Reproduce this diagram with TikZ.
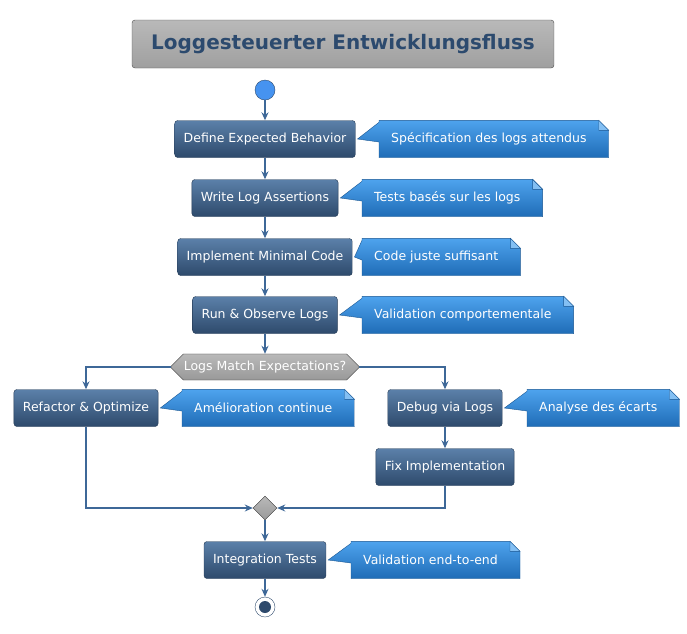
\documentclass[tikz,border=0pt]{standalone}
\usepackage{fontspec}
\setmainfont{DejaVu Sans}
\usetikzlibrary{shapes,arrows.meta,positioning,backgrounds}
\definecolor{actTop}{HTML}{5B80A9}
\definecolor{actBot}{HTML}{2E4A6C}
\definecolor{noteTop}{HTML}{4EA3EE}
\definecolor{noteBot}{HTML}{1F6CB6}
\definecolor{flow}{HTML}{3E6898}
\definecolor{titleTxt}{HTML}{2C4A6E}
\tikzset{%
act/.style={rectangle, rounded corners=3pt, draw=actBot!80!black, top color=actTop, bottom color=actBot, text=white, font=\fontsize{12.5}{15}\selectfont, minimum height=37pt, inner xsep=9pt},
note/.style={rectangle, text=white, font=\fontsize{12.5}{15}\selectfont, minimum height=37pt, inner xsep=0pt, align=left},
flw/.style={draw=flow, line width=1.8pt, -{Stealth[length=8pt,width=7pt]}}
}
% note body with dog-ear and pointer towards its action
\newcommand{\notefor}[2]{%
  \begin{scope}[on background layer]
  \path[draw=noteBot!80!black, top color=noteTop, bottom color=noteBot]
    ([xshift=-12pt]#1.north west) -- ([xshift=12pt]#1.north east) -- ([xshift=22pt,yshift=-10pt]#1.north east)
    -- ([xshift=22pt]#1.south east) -- ([xshift=-12pt]#1.south west) -- ([xshift=-12pt,yshift=-3pt]#1.west)
    -- ([xshift=2pt]#2.east) -- ([xshift=-12pt,yshift=-2pt]#1.north west) -- cycle;
  \path[draw=noteBot!80!black, fill=noteTop!70!white] ([xshift=12pt]#1.north east) -- ([xshift=12pt,yshift=-10pt]#1.north east) -- ([xshift=22pt,yshift=-10pt]#1.north east) -- cycle;
  \end{scope}
}
\begin{document}
\begin{tikzpicture}[x=1pt,y=-1pt]
\useasboundingbox (0,0) rectangle (687,633);
\node[rectangle, rounded corners=3pt, draw=gray!60!black, top color=gray!55, bottom color=gray!75, text=titleTxt, font=\fontsize{20}{24}\bfseries\selectfont, minimum width=422pt, minimum height=48pt] (title) at (343,44) {Loggesteuerter Entwicklungsfluss};
\node[circle, fill=noteTop!90!blue, draw=actBot, minimum size=20pt, inner sep=0] (start) at (265,90) {};

\node[act] (define) at (265,139) {Define Expected Behavior};
\node[act] (write) at (265,198) {Write Log Assertions};
\node[act] (impl) at (265,257) {Implement Minimal Code};
\node[act] (run) at (265,315) {Run \& Observe Logs};
\node[chamfered rectangle, chamfered rectangle xsep=9pt, draw=gray!40!black, top color=gray!55, bottom color=gray!80, text=white, font=\fontsize{12.5}{15}\selectfont, minimum height=26pt, inner xsep=4pt] (match) at (265,367) {Logs Match Expectations?};
\node[act] (refactor) at (86,408) {Refactor \& Optimize};
\node[act] (debug) at (445,408) {Debug via Logs};
\node[act] (fix) at (445,467) {Fix Implementation};
\node[diamond, draw=gray!40!black, top color=gray!55, bottom color=gray!80, minimum size=24pt, inner sep=0] (merge) at (265,508) {};
\node[act] (integ) at (265,560) {Integration Tests};
\node[circle, draw=actBot, minimum size=20pt, inner sep=0] (stop) at (265,607) {};
\fill[actBot] (stop) circle (6pt);

\node[note, anchor=west] (n1) at (391,139) {Spécification des logs attendus};
\node[note, anchor=west] (n2) at (374,198) {Tests basés sur les logs};
\node[note, anchor=west] (n3) at (374,257) {Code juste suffisant};
\node[note, anchor=west] (n4) at (374,315) {Validation comportementale};
\node[note, anchor=west] (n5) at (194,408) {Amélioration continue};
\node[note, anchor=west] (n6) at (539,408) {Analyse des écarts};
\node[note, anchor=west] (n7) at (363,560) {Validation end-to-end};
\notefor{n1}{define}
\notefor{n2}{write}
\notefor{n3}{impl}
\notefor{n4}{run}
\notefor{n5}{refactor}
\notefor{n6}{debug}
\notefor{n7}{integ}

\path[flw] (start) -- (define);
\path[flw] (define) -- (write);
\path[flw] (write) -- (impl);
\path[flw] (impl) -- (run);
\path[flw] (run) -- (match);
\path[flw] (match.west) -| (refactor.north);
\path[flw] (match.east) -| (debug.north);
\path[flw] (debug) -- (fix);
\path[flw] (refactor.south) |- (merge.west);
\path[flw] (fix.south) |- (merge.east);
\path[flw] (merge) -- (integ);
\path[flw] (integ) -- (stop);
\end{tikzpicture}
\end{document}
